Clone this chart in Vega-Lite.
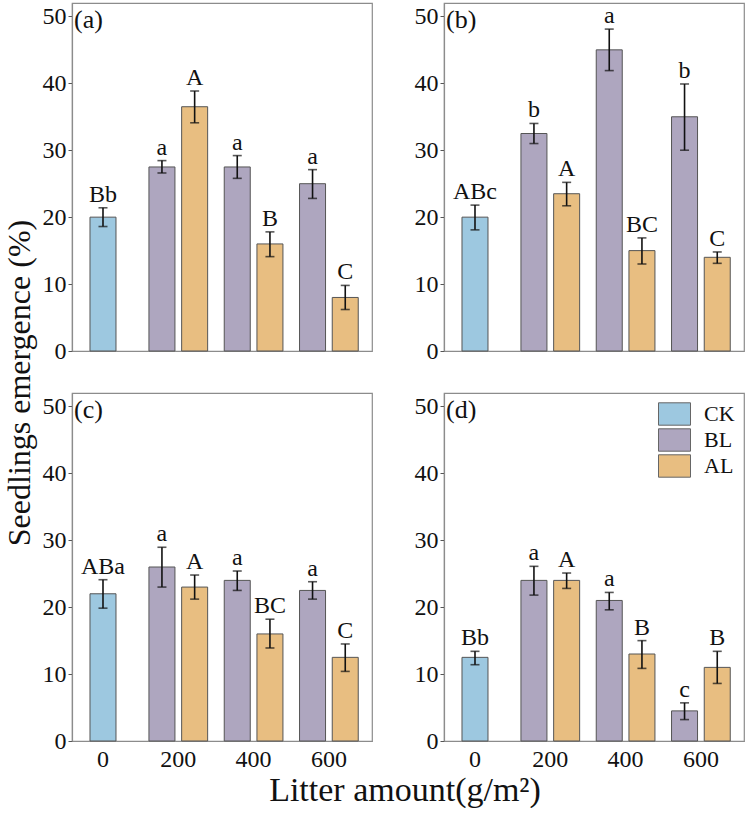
{
  "$schema": "https://vega.github.io/schema/vega-lite/v6.json",
  "padding": {"left": 4, "top": 2, "right": 4, "bottom": 0},
  "datasets": {
    "rows": [
      {"panel": "a", "litter": "0", "t": "CK", "v": 20, "lo": 18.6, "hi": 21.4, "lab": "Bb"},
      {"panel": "a", "litter": "200", "t": "BL", "v": 27.5, "lo": 26.6, "hi": 28.45, "lab": "a"},
      {"panel": "a", "litter": "200", "t": "AL", "v": 36.5, "lo": 34.1, "hi": 38.85, "lab": "A"},
      {"panel": "a", "litter": "400", "t": "BL", "v": 27.5, "lo": 25.8, "hi": 29.2, "lab": "a"},
      {"panel": "a", "litter": "400", "t": "AL", "v": 16, "lo": 14.1, "hi": 17.8, "lab": "B"},
      {"panel": "a", "litter": "600", "t": "BL", "v": 25, "lo": 22.8, "hi": 27.1, "lab": "a"},
      {"panel": "a", "litter": "600", "t": "AL", "v": 8, "lo": 6.2, "hi": 9.8, "lab": "C"},
      {"panel": "b", "litter": "0", "t": "CK", "v": 20, "lo": 18.1, "hi": 21.8, "lab": "ABc"},
      {"panel": "b", "litter": "200", "t": "BL", "v": 32.5, "lo": 31.0, "hi": 34.0, "lab": "b"},
      {"panel": "b", "litter": "200", "t": "AL", "v": 23.5, "lo": 21.7, "hi": 25.2, "lab": "A"},
      {"panel": "b", "litter": "400", "t": "BL", "v": 45, "lo": 41.9, "hi": 48.1, "lab": "a"},
      {"panel": "b", "litter": "400", "t": "AL", "v": 15, "lo": 13.0, "hi": 16.9, "lab": "BC"},
      {"panel": "b", "litter": "600", "t": "BL", "v": 35, "lo": 30.0, "hi": 39.9, "lab": "b"},
      {"panel": "b", "litter": "600", "t": "AL", "v": 14, "lo": 13.1, "hi": 14.8, "lab": "C"},
      {"panel": "c", "litter": "0", "t": "CK", "v": 22, "lo": 19.85, "hi": 24.1, "lab": "ABa"},
      {"panel": "c", "litter": "200", "t": "BL", "v": 26, "lo": 23.0, "hi": 28.95, "lab": "a"},
      {"panel": "c", "litter": "200", "t": "AL", "v": 23, "lo": 21.2, "hi": 24.8, "lab": "A"},
      {"panel": "c", "litter": "400", "t": "BL", "v": 24, "lo": 22.5, "hi": 25.4, "lab": "a"},
      {"panel": "c", "litter": "400", "t": "AL", "v": 16, "lo": 13.9, "hi": 18.2, "lab": "BC"},
      {"panel": "c", "litter": "600", "t": "BL", "v": 22.5, "lo": 21.2, "hi": 23.8, "lab": "a"},
      {"panel": "c", "litter": "600", "t": "AL", "v": 12.5, "lo": 10.4, "hi": 14.5, "lab": "C"},
      {"panel": "d", "litter": "0", "t": "CK", "v": 12.5, "lo": 11.4, "hi": 13.4, "lab": "Bb"},
      {"panel": "d", "litter": "200", "t": "BL", "v": 24, "lo": 21.8, "hi": 26.1, "lab": "a"},
      {"panel": "d", "litter": "200", "t": "AL", "v": 24, "lo": 22.8, "hi": 25.1, "lab": "A"},
      {"panel": "d", "litter": "400", "t": "BL", "v": 21, "lo": 19.6, "hi": 22.2, "lab": "a"},
      {"panel": "d", "litter": "400", "t": "AL", "v": 13, "lo": 10.85, "hi": 15.0, "lab": "B"},
      {"panel": "d", "litter": "600", "t": "BL", "v": 4.5, "lo": 3.2, "hi": 5.7, "lab": "c"},
      {"panel": "d", "litter": "600", "t": "AL", "v": 11, "lo": 8.6, "hi": 13.4, "lab": "B"}
    ]
  },
  "title": {"text": "Seedlings emergence (%)", "orient": "left", "anchor": "middle", "fontSize": 32, "offset": 4, "dx": 22},
  "spacing": 28,
  "resolve": {"scale": {"x": "independent", "y": "independent", "xOffset": "independent", "fill": "independent"}, "legend": {"fill": "independent"}},
  "vconcat": [
    {
      "spacing": 40,
      "resolve": {"scale": {"x": "independent", "y": "independent", "xOffset": "independent", "fill": "independent"}, "legend": {"fill": "independent"}},
      "hconcat": [
        {
          "width": 300, "height": 348,
          "title": {"text": "(a)", "anchor": "start", "frame": "group", "offset": -30, "dx": 2, "fontSize": 26},
          "data": {"name": "rows"},
          "transform": [{"filter": "datum.panel == 'a'"}],
          "layer": [
            {
              "transform": [{"filter": "datum.t == 'CK'"}],
              "encoding": {
                "x": {"field": "litter", "type": "ordinal", "title": null, "scale": {"domain": ["0", "200", "400", "600"], "paddingInner": 0.2205, "paddingOuter": 0.1023, "align": 0.107}, "axis": null}
              },
              "layer": [
                {"mark": {"type": "bar", "stroke": "#555", "strokeWidth": 1, "width": {"band": 0.443}},
                 "encoding": {"y": {"field": "v", "type": "quantitative", "title": null, "scale": {"domain": [0, 52], "nice": false}},
                   "fill": {"field": "t", "type": "nominal", "scale": {"domain": ["CK", "BL", "AL"], "range": ["#9dc8e0", "#aea6bf", "#e8be81"]}, "legend": null}}},
                {"mark": {"type": "rule", "color": "#111", "strokeWidth": 1.6},
                 "encoding": {"y": {"field": "lo", "type": "quantitative", "title": null, "scale": {"domain": [0, 52], "nice": false}}, "y2": {"field": "hi"}}},
                {"mark": {"type": "tick", "color": "#111", "size": 9, "thickness": 1.6},
                 "encoding": {"y": {"field": "lo", "type": "quantitative", "title": null, "scale": {"domain": [0, 52], "nice": false}}}},
                {"mark": {"type": "tick", "color": "#111", "size": 9, "thickness": 1.6},
                 "encoding": {"y": {"field": "hi", "type": "quantitative", "title": null, "scale": {"domain": [0, 52], "nice": false}}}},
                {"mark": {"type": "text", "fontSize": 24, "dy": -6, "baseline": "alphabetic", "color": "#111"},
                 "encoding": {"y": {"field": "hi", "type": "quantitative", "title": null, "scale": {"domain": [0, 52], "nice": false}}, "text": {"field": "lab"}}}
              ]
            },
            {
              "transform": [{"filter": "datum.t != 'CK'"}],
              "encoding": {
                "x": {"field": "litter", "type": "ordinal", "title": null, "scale": {"domain": ["0", "200", "400", "600"], "paddingInner": 0.2205, "paddingOuter": 0.1023, "align": 0.107}, "axis": null},
                "xOffset": {"field": "t", "type": "nominal", "scale": {"domain": ["BL", "AL"], "paddingInner": 0.205, "paddingOuter": 0}}
              },
              "layer": [
                {"mark": {"type": "bar", "stroke": "#555", "strokeWidth": 1},
                 "encoding": {"y": {"field": "v", "type": "quantitative", "title": null, "scale": {"domain": [0, 52], "nice": false}},
                   "fill": {"field": "t", "type": "nominal", "scale": {"domain": ["CK", "BL", "AL"], "range": ["#9dc8e0", "#aea6bf", "#e8be81"]}, "legend": null}}},
                {"mark": {"type": "rule", "color": "#111", "strokeWidth": 1.6},
                 "encoding": {"y": {"field": "lo", "type": "quantitative", "title": null, "scale": {"domain": [0, 52], "nice": false}}, "y2": {"field": "hi"}}},
                {"mark": {"type": "tick", "color": "#111", "size": 9, "thickness": 1.6},
                 "encoding": {"y": {"field": "lo", "type": "quantitative", "title": null, "scale": {"domain": [0, 52], "nice": false}}}},
                {"mark": {"type": "tick", "color": "#111", "size": 9, "thickness": 1.6},
                 "encoding": {"y": {"field": "hi", "type": "quantitative", "title": null, "scale": {"domain": [0, 52], "nice": false}}}},
                {"mark": {"type": "text", "fontSize": 24, "dy": -6, "baseline": "alphabetic", "color": "#111"},
                 "encoding": {"y": {"field": "hi", "type": "quantitative", "title": null, "scale": {"domain": [0, 52], "nice": false}}, "text": {"field": "lab"}}}
              ]
            }
          ]
        },
        {
          "width": 300, "height": 348,
          "title": {"text": "(b)", "anchor": "start", "frame": "group", "offset": -30, "dx": 2, "fontSize": 26},
          "data": {"name": "rows"},
          "transform": [{"filter": "datum.panel == 'b'"}],
          "layer": [
            {
              "transform": [{"filter": "datum.t == 'CK'"}],
              "encoding": {
                "x": {"field": "litter", "type": "ordinal", "title": null, "scale": {"domain": ["0", "200", "400", "600"], "paddingInner": 0.2205, "paddingOuter": 0.1023, "align": 0.107}, "axis": null}
              },
              "layer": [
                {"mark": {"type": "bar", "stroke": "#555", "strokeWidth": 1, "width": {"band": 0.443}},
                 "encoding": {"y": {"field": "v", "type": "quantitative", "title": null, "scale": {"domain": [0, 52], "nice": false}},
                   "fill": {"field": "t", "type": "nominal", "scale": {"domain": ["CK", "BL", "AL"], "range": ["#9dc8e0", "#aea6bf", "#e8be81"]}, "legend": null}}},
                {"mark": {"type": "rule", "color": "#111", "strokeWidth": 1.6},
                 "encoding": {"y": {"field": "lo", "type": "quantitative", "title": null, "scale": {"domain": [0, 52], "nice": false}}, "y2": {"field": "hi"}}},
                {"mark": {"type": "tick", "color": "#111", "size": 9, "thickness": 1.6},
                 "encoding": {"y": {"field": "lo", "type": "quantitative", "title": null, "scale": {"domain": [0, 52], "nice": false}}}},
                {"mark": {"type": "tick", "color": "#111", "size": 9, "thickness": 1.6},
                 "encoding": {"y": {"field": "hi", "type": "quantitative", "title": null, "scale": {"domain": [0, 52], "nice": false}}}},
                {"mark": {"type": "text", "fontSize": 24, "dy": -6, "baseline": "alphabetic", "color": "#111"},
                 "encoding": {"y": {"field": "hi", "type": "quantitative", "title": null, "scale": {"domain": [0, 52], "nice": false}}, "text": {"field": "lab"}}}
              ]
            },
            {
              "transform": [{"filter": "datum.t != 'CK'"}],
              "encoding": {
                "x": {"field": "litter", "type": "ordinal", "title": null, "scale": {"domain": ["0", "200", "400", "600"], "paddingInner": 0.2205, "paddingOuter": 0.1023, "align": 0.107}, "axis": null},
                "xOffset": {"field": "t", "type": "nominal", "scale": {"domain": ["BL", "AL"], "paddingInner": 0.205, "paddingOuter": 0}}
              },
              "layer": [
                {"mark": {"type": "bar", "stroke": "#555", "strokeWidth": 1},
                 "encoding": {"y": {"field": "v", "type": "quantitative", "title": null, "scale": {"domain": [0, 52], "nice": false}},
                   "fill": {"field": "t", "type": "nominal", "scale": {"domain": ["CK", "BL", "AL"], "range": ["#9dc8e0", "#aea6bf", "#e8be81"]}, "legend": null}}},
                {"mark": {"type": "rule", "color": "#111", "strokeWidth": 1.6},
                 "encoding": {"y": {"field": "lo", "type": "quantitative", "title": null, "scale": {"domain": [0, 52], "nice": false}}, "y2": {"field": "hi"}}},
                {"mark": {"type": "tick", "color": "#111", "size": 9, "thickness": 1.6},
                 "encoding": {"y": {"field": "lo", "type": "quantitative", "title": null, "scale": {"domain": [0, 52], "nice": false}}}},
                {"mark": {"type": "tick", "color": "#111", "size": 9, "thickness": 1.6},
                 "encoding": {"y": {"field": "hi", "type": "quantitative", "title": null, "scale": {"domain": [0, 52], "nice": false}}}},
                {"mark": {"type": "text", "fontSize": 24, "dy": -6, "baseline": "alphabetic", "color": "#111"},
                 "encoding": {"y": {"field": "hi", "type": "quantitative", "title": null, "scale": {"domain": [0, 52], "nice": false}}, "text": {"field": "lab"}}}
              ]
            }
          ]
        }
      ]
    },
    {
      "spacing": 40,
      "title": {"text": "Litter amount(g/m²)", "orient": "bottom", "anchor": "middle", "fontSize": 34, "offset": 2, "dx": 12},
      "resolve": {"scale": {"x": "independent", "y": "independent", "xOffset": "independent", "fill": "independent"}, "legend": {"fill": "independent"}},
      "hconcat": [
        {
          "width": 300, "height": 348,
          "title": {"text": "(c)", "anchor": "start", "frame": "group", "offset": -30, "dx": 2, "fontSize": 26},
          "data": {"name": "rows"},
          "transform": [{"filter": "datum.panel == 'c'"}],
          "layer": [
            {
              "transform": [{"filter": "datum.t == 'CK'"}],
              "encoding": {
                "x": {"field": "litter", "type": "ordinal", "title": null, "scale": {"domain": ["0", "200", "400", "600"], "paddingInner": 0.2205, "paddingOuter": 0.1023, "align": 0.107}, "axis": {"ticks": false, "labelPadding": 6, "labelAngle": 0}}
              },
              "layer": [
                {"mark": {"type": "bar", "stroke": "#555", "strokeWidth": 1, "width": {"band": 0.443}},
                 "encoding": {"y": {"field": "v", "type": "quantitative", "title": null, "scale": {"domain": [0, 52], "nice": false}},
                   "fill": {"field": "t", "type": "nominal", "scale": {"domain": ["CK", "BL", "AL"], "range": ["#9dc8e0", "#aea6bf", "#e8be81"]}, "legend": null}}},
                {"mark": {"type": "rule", "color": "#111", "strokeWidth": 1.6},
                 "encoding": {"y": {"field": "lo", "type": "quantitative", "title": null, "scale": {"domain": [0, 52], "nice": false}}, "y2": {"field": "hi"}}},
                {"mark": {"type": "tick", "color": "#111", "size": 9, "thickness": 1.6},
                 "encoding": {"y": {"field": "lo", "type": "quantitative", "title": null, "scale": {"domain": [0, 52], "nice": false}}}},
                {"mark": {"type": "tick", "color": "#111", "size": 9, "thickness": 1.6},
                 "encoding": {"y": {"field": "hi", "type": "quantitative", "title": null, "scale": {"domain": [0, 52], "nice": false}}}},
                {"mark": {"type": "text", "fontSize": 24, "dy": -6, "baseline": "alphabetic", "color": "#111"},
                 "encoding": {"y": {"field": "hi", "type": "quantitative", "title": null, "scale": {"domain": [0, 52], "nice": false}}, "text": {"field": "lab"}}}
              ]
            },
            {
              "transform": [{"filter": "datum.t != 'CK'"}],
              "encoding": {
                "x": {"field": "litter", "type": "ordinal", "title": null, "scale": {"domain": ["0", "200", "400", "600"], "paddingInner": 0.2205, "paddingOuter": 0.1023, "align": 0.107}, "axis": {"ticks": false, "labelPadding": 6, "labelAngle": 0}},
                "xOffset": {"field": "t", "type": "nominal", "scale": {"domain": ["BL", "AL"], "paddingInner": 0.205, "paddingOuter": 0}}
              },
              "layer": [
                {"mark": {"type": "bar", "stroke": "#555", "strokeWidth": 1},
                 "encoding": {"y": {"field": "v", "type": "quantitative", "title": null, "scale": {"domain": [0, 52], "nice": false}},
                   "fill": {"field": "t", "type": "nominal", "scale": {"domain": ["CK", "BL", "AL"], "range": ["#9dc8e0", "#aea6bf", "#e8be81"]}, "legend": null}}},
                {"mark": {"type": "rule", "color": "#111", "strokeWidth": 1.6},
                 "encoding": {"y": {"field": "lo", "type": "quantitative", "title": null, "scale": {"domain": [0, 52], "nice": false}}, "y2": {"field": "hi"}}},
                {"mark": {"type": "tick", "color": "#111", "size": 9, "thickness": 1.6},
                 "encoding": {"y": {"field": "lo", "type": "quantitative", "title": null, "scale": {"domain": [0, 52], "nice": false}}}},
                {"mark": {"type": "tick", "color": "#111", "size": 9, "thickness": 1.6},
                 "encoding": {"y": {"field": "hi", "type": "quantitative", "title": null, "scale": {"domain": [0, 52], "nice": false}}}},
                {"mark": {"type": "text", "fontSize": 24, "dy": -6, "baseline": "alphabetic", "color": "#111"},
                 "encoding": {"y": {"field": "hi", "type": "quantitative", "title": null, "scale": {"domain": [0, 52], "nice": false}}, "text": {"field": "lab"}}}
              ]
            }
          ]
        },
        {
          "width": 300, "height": 348,
          "title": {"text": "(d)", "anchor": "start", "frame": "group", "offset": -30, "dx": 2, "fontSize": 26},
          "data": {"name": "rows"},
          "transform": [{"filter": "datum.panel == 'd'"}],
          "layer": [
            {
              "transform": [{"filter": "datum.t == 'CK'"}],
              "encoding": {
                "x": {"field": "litter", "type": "ordinal", "title": null, "scale": {"domain": ["0", "200", "400", "600"], "paddingInner": 0.2205, "paddingOuter": 0.1023, "align": 0.107}, "axis": {"ticks": false, "labelPadding": 6, "labelAngle": 0}}
              },
              "layer": [
                {"mark": {"type": "bar", "stroke": "#555", "strokeWidth": 1, "width": {"band": 0.443}},
                 "encoding": {"y": {"field": "v", "type": "quantitative", "title": null, "scale": {"domain": [0, 52], "nice": false}},
                   "fill": {"field": "t", "type": "nominal", "title": null, "scale": {"domain": ["CK", "BL", "AL"], "range": ["#9dc8e0", "#aea6bf", "#e8be81"]},
                     "legend": {"orient": "top-right", "offset": 9, "title": null, "symbolType": "M-1,-0.7H1V0.7H-1Z", "symbolSize": 1024, "symbolStrokeColor": "#666", "symbolStrokeWidth": 1, "labelFontSize": 22, "labelOffset": 13, "rowPadding": 2, "clipHeight": 24}}}},
                {"mark": {"type": "rule", "color": "#111", "strokeWidth": 1.6},
                 "encoding": {"y": {"field": "lo", "type": "quantitative", "title": null, "scale": {"domain": [0, 52], "nice": false}}, "y2": {"field": "hi"}}},
                {"mark": {"type": "tick", "color": "#111", "size": 9, "thickness": 1.6},
                 "encoding": {"y": {"field": "lo", "type": "quantitative", "title": null, "scale": {"domain": [0, 52], "nice": false}}}},
                {"mark": {"type": "tick", "color": "#111", "size": 9, "thickness": 1.6},
                 "encoding": {"y": {"field": "hi", "type": "quantitative", "title": null, "scale": {"domain": [0, 52], "nice": false}}}},
                {"mark": {"type": "text", "fontSize": 24, "dy": -6, "baseline": "alphabetic", "color": "#111"},
                 "encoding": {"y": {"field": "hi", "type": "quantitative", "title": null, "scale": {"domain": [0, 52], "nice": false}}, "text": {"field": "lab"}}}
              ]
            },
            {
              "transform": [{"filter": "datum.t != 'CK'"}],
              "encoding": {
                "x": {"field": "litter", "type": "ordinal", "title": null, "scale": {"domain": ["0", "200", "400", "600"], "paddingInner": 0.2205, "paddingOuter": 0.1023, "align": 0.107}, "axis": {"ticks": false, "labelPadding": 6, "labelAngle": 0}},
                "xOffset": {"field": "t", "type": "nominal", "scale": {"domain": ["BL", "AL"], "paddingInner": 0.205, "paddingOuter": 0}}
              },
              "layer": [
                {"mark": {"type": "bar", "stroke": "#555", "strokeWidth": 1},
                 "encoding": {"y": {"field": "v", "type": "quantitative", "title": null, "scale": {"domain": [0, 52], "nice": false}},
                   "fill": {"field": "t", "type": "nominal", "title": null, "scale": {"domain": ["CK", "BL", "AL"], "range": ["#9dc8e0", "#aea6bf", "#e8be81"]},
                     "legend": {"orient": "top-right", "offset": 9, "title": null, "symbolType": "M-1,-0.7H1V0.7H-1Z", "symbolSize": 1024, "symbolStrokeColor": "#666", "symbolStrokeWidth": 1, "labelFontSize": 22, "labelOffset": 13, "rowPadding": 2, "clipHeight": 24}}}},
                {"mark": {"type": "rule", "color": "#111", "strokeWidth": 1.6},
                 "encoding": {"y": {"field": "lo", "type": "quantitative", "title": null, "scale": {"domain": [0, 52], "nice": false}}, "y2": {"field": "hi"}}},
                {"mark": {"type": "tick", "color": "#111", "size": 9, "thickness": 1.6},
                 "encoding": {"y": {"field": "lo", "type": "quantitative", "title": null, "scale": {"domain": [0, 52], "nice": false}}}},
                {"mark": {"type": "tick", "color": "#111", "size": 9, "thickness": 1.6},
                 "encoding": {"y": {"field": "hi", "type": "quantitative", "title": null, "scale": {"domain": [0, 52], "nice": false}}}},
                {"mark": {"type": "text", "fontSize": 24, "dy": -6, "baseline": "alphabetic", "color": "#111"},
                 "encoding": {"y": {"field": "hi", "type": "quantitative", "title": null, "scale": {"domain": [0, 52], "nice": false}}, "text": {"field": "lab"}}}
              ]
            }
          ]
        }
      ]
    }
  ],
  "config": {
    "font": "Liberation Serif, Times New Roman, serif",
    "view": {"stroke": "#8c8c8c", "strokeWidth": 1.2},
    "text": {"font": "Liberation Serif, Times New Roman, serif"},
    "axis": {"labelFont": "Liberation Serif, Times New Roman, serif", "labelFontSize": 24, "labelColor": "#111", "domainColor": "#8c8c8c", "domainWidth": 1.2, "tickColor": "#555", "grid": false},
    "axisY": {"tickCount": 5, "tickSize": 4, "labelPadding": 2},
    "legend": {"labelFont": "Liberation Serif, Times New Roman, serif", "labelColor": "#111"},
    "title": {"font": "Liberation Serif, Times New Roman, serif", "fontWeight": "normal", "color": "#111"}
  }
}
